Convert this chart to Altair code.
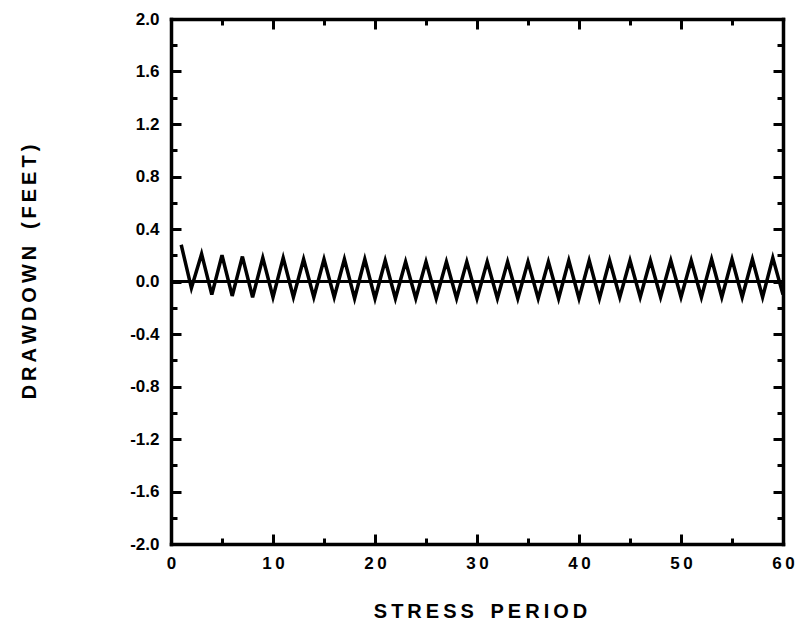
import altair as alt
import pandas as pd

# Data
stress_period = list(range(1, 61))
drawdown = [
    0.28, -0.05, 0.21, -0.10, 0.20, -0.11, 0.19, -0.12, 0.18, -0.12,
    0.18, -0.12, 0.17, -0.12, 0.17, -0.12, 0.17, -0.13, 0.17, -0.13,
    0.16, -0.13, 0.15, -0.13, 0.15, -0.13, 0.15, -0.13, 0.15, -0.13,
    0.15, -0.13, 0.15, -0.13, 0.15, -0.13, 0.15, -0.13, 0.16, -0.13,
    0.16, -0.13, 0.16, -0.12, 0.16, -0.12, 0.16, -0.12, 0.16, -0.12,
    0.16, -0.12, 0.17, -0.12, 0.17, -0.12, 0.17, -0.12, 0.18, -0.10,
]
x_major = [0, 10, 20, 30, 40, 50, 60]
x_all = [0, 5, 10, 15, 20, 25, 30, 35, 40, 45, 50, 55, 60]
y_major = [-2.0, -1.6, -1.2, -0.8, -0.4, 0.0, 0.4, 0.8, 1.2, 1.6, 2.0]
y_all = [-2.0, -1.8, -1.6, -1.4, -1.2, -1.0, -0.8, -0.6, -0.4, -0.2, 0.0,
         0.2, 0.4, 0.6, 0.8, 1.0, 1.2, 1.4, 1.6, 1.8, 2.0]

x_title = "\u2009".join("STRESS") + "\u00a0\u00a0\u00a0" + "\u2009".join("PERIOD")
y_title = "\u2009".join("DRAWDOWN") + "\u00a0\u00a0\u00a0" + "\u2009".join("(FEET)")

df = pd.DataFrame({"period": stress_period, "drawdown": drawdown})

W, H = 612, 525
FONT = "Liberation Sans"

xscale = alt.Scale(domain=[0, 60], nice=False, zero=False)
yscale = alt.Scale(domain=[-2, 2], nice=False, zero=False)

x_tick_size = {"condition": {"test": "datum.value % 10 == 0", "value": 10}, "value": 6}
y_tick_size = {"condition": {"test": "abs(round(datum.value * 5)) % 2 == 0", "value": 10}, "value": 6}

tick_axis_common = dict(
    labels=False, title=None, grid=False,
    domain=True, domainColor="black", domainWidth=3.5, domainCap="square",
    ticks=True, tickColor="black", tickWidth=3,
)

# Main line with labelled axes (left / bottom)
line = alt.Chart(df).mark_line(color="black", strokeWidth=3.5).encode(
    x=alt.X("period:Q", scale=xscale, axis=alt.Axis(
        orient="bottom", values=x_major, ticks=False, domain=False, grid=False,
        labelExpr="datum.value < 10 ? '0' : floor(datum.value / 10) + '\u2009' + (datum.value % 10)",
        labelFont=FONT, labelFontWeight="bold", labelFontSize=17, labelColor="black",
        labelPadding=11, labelFlush=False,
        title=x_title, titleFont=FONT, titleFontWeight="bold", titleFontSize=20,
        titleColor="black", titleX=W / 2 + 3, titleY=67, titleAlign="center",
        titleBaseline="middle",
    )),
    y=alt.Y("drawdown:Q", scale=yscale, axis=alt.Axis(
        orient="left", values=y_major, ticks=False, domain=False, grid=False,
        labelExpr="replace(format(datum.value, '.1f'), '\u2212', '-')",
        labelFont=FONT, labelFontWeight="bold", labelFontSize=17, labelColor="black",
        labelPadding=12, labelFlush=False,
        title=y_title, titleFont=FONT, titleFontWeight="bold", titleFontSize=20,
        titleColor="black", titleX=-142, titleY=H / 2 - 10, titleAngle=-90,
        titleAlign="center", titleBaseline="middle",
    )),
)

# Inward ticks on left and bottom borders
ticks_lb = alt.Chart(df).mark_line(opacity=0).encode(
    x=alt.X("period:Q", scale=xscale, axis=alt.Axis(
        orient="top", offset=-H, values=x_all, tickSize=x_tick_size, **tick_axis_common)),
    y=alt.Y("drawdown:Q", scale=yscale, axis=alt.Axis(
        orient="right", offset=-W, values=y_all, tickSize=y_tick_size, **tick_axis_common)),
)

# Inward ticks on right and top borders
ticks_rt = alt.Chart(df).mark_line(opacity=0).encode(
    x=alt.X("period:Q", scale=xscale, axis=alt.Axis(
        orient="bottom", offset=-H, values=x_all, tickSize=x_tick_size, **tick_axis_common)),
    y=alt.Y("drawdown:Q", scale=yscale, axis=alt.Axis(
        orient="left", offset=-W, values=y_all, tickSize=y_tick_size, **tick_axis_common)),
)

zero = alt.Chart(df).mark_rule(color="black", strokeWidth=2.5).encode(
    y=alt.YDatum(0, scale=yscale, axis=None),
)

chart = alt.layer(zero, line, ticks_lb, ticks_rt).resolve_axis(
    x="independent", y="independent"
).properties(
    width=W, height=H,
    autosize=alt.AutoSizeParams(type="none"),
    padding={"left": 171, "top": 19, "right": 17, "bottom": 81},
    background="white",
).configure_view(stroke=None)

chart.save("out.html", embed_options={"renderer": "svg", "actions": False})
